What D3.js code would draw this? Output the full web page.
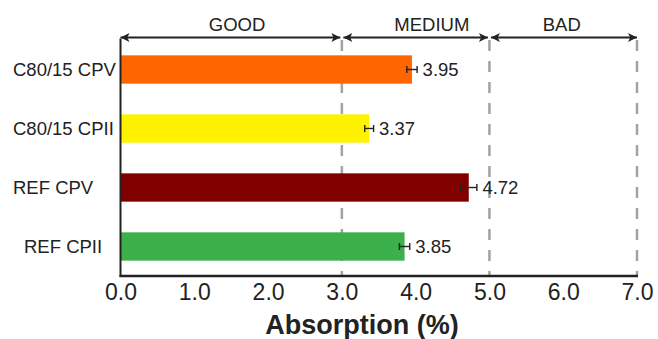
<!DOCTYPE html>
<html>
<head>
<meta charset="utf-8">
<script src="https://cdn.jsdelivr.net/npm/d3@7"></script>
<style>
  html, body { margin: 0; padding: 0; background: #fff; }
  svg { display: block; font-family: "Liberation Sans", Arial, Helvetica, sans-serif; }
</style>
</head>
<body>
<svg id="chart" width="658" height="339"></svg>
<script>
// Absorption by mix / cement type
const categories = ["C80/15 CPV", "C80/15 CPII", "REF CPV", "REF CPII"];
const absorption = [3.95, 3.37, 4.72, 3.85];
const errors = [0.07, 0.06, 0.11, 0.07];
const barColors = ["#ff6600", "#fff200", "#800000", "#3cb04a"];
const xTicks = [0, 1, 2, 3, 4, 5, 6, 7];
const zoneNames = ["GOOD", "MEDIUM", "BAD"];
const zoneBounds = [0, 3, 5, 7];

// layout
const plotLeft = 120.5, plotRight = 637, plotTop = 40, plotBottom = 276;
const arrowY = 37.5;
const zoneLabelX = [1.58, 4.22, 5.98];   // label centres, in axis units
const catLabelX = { "REF CPII": 24 };   // default 13
const textColor = "#222";

const svg = d3.select("#chart");

const x = d3.scaleLinear().domain([0, 7]).range([plotLeft, plotRight]);
const y = d3.scaleBand().domain(categories).range([plotTop, plotBottom])
  .paddingInner(0.52).paddingOuter(0.26);

// dashed zone boundaries
svg.append("g").selectAll("line")
  .data(zoneBounds.slice(1))
  .join("line")
  .attr("x1", d => x(d)).attr("x2", d => x(d))
  .attr("y1", plotTop).attr("y2", plotBottom - 1)
  .attr("stroke", "#a3a3a3").attr("stroke-width", 2.5)
  .attr("stroke-dasharray", "11,10");

// bars
svg.append("g").selectAll("rect")
  .data(categories)
  .join("rect")
  .attr("x", x(0))
  .attr("y", d => y(d))
  .attr("width", (d, i) => x(absorption[i]) - x(0))
  .attr("height", y.bandwidth())
  .attr("fill", (d, i) => barColors[i]);

// error bars
const eb = svg.append("g").attr("stroke", textColor).attr("stroke-width", 1.4);
categories.forEach((c, i) => {
  const cy = y(c) + y.bandwidth() / 2;
  const lo = x(absorption[i] - errors[i]), hi = x(absorption[i] + errors[i]);
  eb.append("line").attr("x1", lo).attr("x2", hi).attr("y1", cy).attr("y2", cy);
  eb.append("line").attr("x1", lo).attr("x2", lo).attr("y1", cy - 3.5).attr("y2", cy + 3.5);
  eb.append("line").attr("x1", hi).attr("x2", hi).attr("y1", cy - 3.5).attr("y2", cy + 3.5);
});

// value labels
svg.append("g").selectAll("text")
  .data(categories)
  .join("text")
  .attr("x", (d, i) => x(absorption[i] + errors[i]) + 5.5)
  .attr("y", d => y(d) + y.bandwidth() / 2)
  .attr("dy", "0.36em")
  .attr("font-size", 18.5)
  .attr("fill", textColor)
  .text((d, i) => absorption[i].toFixed(2));

// category labels
svg.append("g").selectAll("text")
  .data(categories)
  .join("text")
  .attr("x", d => catLabelX[d] ?? 13)
  .attr("y", d => y(d) + y.bandwidth() / 2)
  .attr("dy", "0.36em")
  .attr("font-size", 18.5)
  .attr("fill", textColor)
  .text(d => d);

// axes lines
svg.append("line")
  .attr("x1", plotLeft).attr("x2", plotLeft)
  .attr("y1", arrowY + 1).attr("y2", plotBottom + 1)
  .attr("stroke", textColor).attr("stroke-width", 2);

const xAxis = svg.append("g")
  .attr("transform", `translate(0,${plotBottom})`)
  .call(d3.axisBottom(x).tickValues(xTicks).tickFormat(d3.format(".1f")).tickSize(0).tickPadding(8));
xAxis.select(".domain").attr("stroke", textColor).attr("stroke-width", 2.5)
  .attr("d", `M${plotLeft - 1},0H${plotRight + 1}`);
xAxis.selectAll("text")
  .attr("font-size", 23)
  .attr("font-family", "Liberation Sans, Arial, sans-serif")
  .attr("fill", textColor);

// axis title
svg.append("text")
  .attr("x", 362).attr("y", 333.5)
  .attr("text-anchor", "middle")
  .attr("font-size", 27)
  .attr("font-weight", "bold")
  .attr("fill", textColor)
  .text("Absorption (%)");

// zone arrows
const defs = svg.append("defs");
defs.append("marker")
  .attr("id", "head")
  .attr("viewBox", "0 0 10 10")
  .attr("refX", 10).attr("refY", 5)
  .attr("markerWidth", 10).attr("markerHeight", 9)
  .attr("markerUnits", "userSpaceOnUse")
  .attr("orient", "auto-start-reverse")
  .append("path").attr("d", "M0,0L10,5L0,10L2.5,5Z").attr("fill", textColor);

const zones = svg.append("g");
zoneNames.forEach((name, i) => {
  zones.append("line")
    .attr("x1", x(zoneBounds[i]) + (i === 0 ? 0 : 1.5))
    .attr("x2", x(zoneBounds[i + 1]) - (i === zoneNames.length - 1 ? 0 : 1.5))
    .attr("y1", arrowY).attr("y2", arrowY)
    .attr("stroke", textColor).attr("stroke-width", 2)
    .attr("marker-start", "url(#head)")
    .attr("marker-end", "url(#head)");
  zones.append("text")
    .attr("x", x(zoneLabelX[i])).attr("y", 31)
    .attr("text-anchor", "middle")
    .attr("font-size", 18.5)
    .attr("fill", textColor)
    .text(name);
});
</script>
</body>
</html>
